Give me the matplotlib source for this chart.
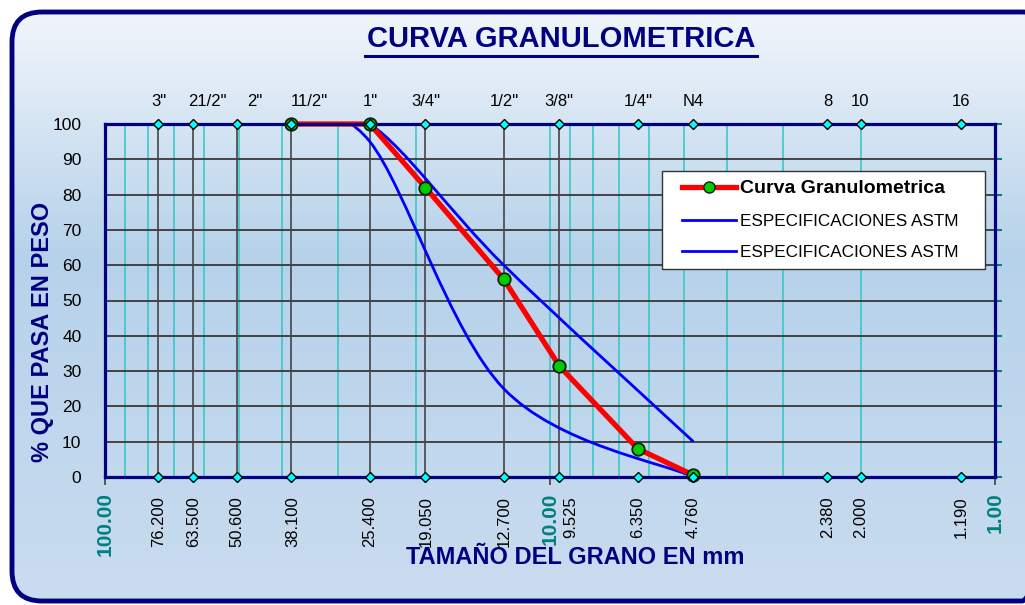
import numpy as np
import matplotlib
matplotlib.use("Agg")
import matplotlib.pyplot as plt
from matplotlib.path import Path
from matplotlib.patches import PathPatch, FancyBboxPatch
from matplotlib.colors import LinearSegmentedColormap
from matplotlib.lines import Line2D
from matplotlib.legend_handler import HandlerLine2D

plt.rcParams['font.family'] = ['Liberation Sans', 'DejaVu Sans']

# tamices (abertura en mm) y su nombre
sieve_names = ['3"', '21/2"', '2"', '11/2"', '1"', '3/4"', '1/2"', '3/8"', '1/4"', 'N4', '8', '10', '16']
sieve_mm = [76.2, 63.5, 50.6, 38.1, 25.4, 19.05, 12.7, 9.525, 6.35, 4.76, 2.38, 2.0, 1.19]
sieve_labels = ['76.200', '63.500', '50.600', '38.100', '25.400', '19.050', '12.700',
                '9.525', '6.350', '4.760', '2.380', '2.000', '1.190']
sieve_lines_mm = [76.2, 63.5, 50.6, 38.1, 25.4, 19.05, 12.7, 9.525]
# corrimiento horizontal de las etiquetas (pixeles), como en la hoja original
top_shift = [1, 15, 18, 18, 0, 0, 1, -1, 0, 0, 0, -1, 0]
bottom_shift = [1, 1, 0, 1, 0, 1, 0, 11, 0, 0, 0, 0, 0]

# curva de la muestra
curva_mm = [38.1, 25.4, 19.05, 12.7, 9.525, 6.35, 4.76]
curva_pasa = [100, 100, 82, 56, 31.4, 8, 0.5]

# limites ASTM
spec_mm = [38.1, 25.4, 12.7, 4.76]
spec_sup = [100, 100, 60, 10]
spec_inf = [100, 95, 25, 0]

major_x = [100, 10, 1]
major_x_labels = ['100.00', '10.00', '1.00']
minor_x = [90, 80, 70, 60, 50, 40, 30, 20, 9, 8, 7, 6, 5, 4, 3, 2]
y_ticks = list(range(0, 101, 10))

NAVY = '#000080'
TEAL = '#008080'


def smooth_path(xs, ys):
    # curva suavizada tipo excel (catmull-rom en escala log)
    pts = np.column_stack([np.log10(xs), np.asarray(ys, float)])
    ext = np.vstack([pts[0], pts, pts[-1]])
    verts = [pts[0]]
    codes = [Path.MOVETO]
    for i in range(len(pts) - 1):
        p0, p1, p2, p3 = ext[i], ext[i + 1], ext[i + 2], ext[i + 3]
        verts += [p1 + (p2 - p0) / 6, p2 - (p3 - p1) / 6, p2]
        codes += [Path.CURVE4] * 3
    verts = np.array(verts)
    verts[:, 0] = 10 ** verts[:, 0]
    return Path(verts, codes)


fig = plt.figure(figsize=(10.25, 6.05), dpi=100)
fig.patch.set_facecolor('white')

# fondo con degradado y marco redondeado
bg = fig.add_axes([0, 0, 1, 1], zorder=-1)
cmap = LinearSegmentedColormap.from_list('bg', [(0, '#f4f7fc'), (0.42, '#b6d2ea'), (1, '#cadcf0')])
im = bg.imshow(np.linspace(0, 1, 256).reshape(-1, 1), cmap=cmap,
               extent=[0, 1025, 605, 0], aspect='auto')
bg.set_xlim(0, 1025)
bg.set_ylim(605, 0)
bg.axis('off')
frame = FancyBboxPatch((12, 12), 1040, 589, boxstyle='round,pad=0,rounding_size=30',
                       transform=bg.transData, fc='none', ec=NAVY, lw=3.5)
bg.add_patch(frame)
im.set_clip_path(frame)
bg.plot([365, 757], [55.5, 55.5], color=NAVY, lw=2.2)

ax = fig.add_axes([105 / 1025, 128 / 605, 890 / 1025, 353 / 605])
ax.set_facecolor('none')
ax.set_xscale('log')
ax.set_xlim(100, 1)
ax.set_ylim(0, 100)

# rejilla
ax.set_xticks(major_x)
ax.set_xticklabels(major_x_labels, rotation=90, color=TEAL, fontsize=15, fontweight='bold')
ax.set_xticks(minor_x, minor=True)
ax.xaxis.set_minor_formatter(plt.NullFormatter())
ax.tick_params(axis='x', which='major', direction='out', length=6, width=1.2,
               color='#404040', pad=5)
ax.tick_params(axis='x', which='minor', length=0)
ax.grid(True, axis='x', which='both', color='#3cc8c8', lw=1.2)
ax.set_yticks(y_ticks)
ax.set_yticklabels([str(v) for v in y_ticks], fontsize=12.5)
ax.tick_params(axis='y', left=False, right=True, direction='out', length=5, width=1.5,
               color=TEAL, pad=12)
for v in y_ticks[1:-1]:
    ax.axhline(v, color='#383838', lw=1.3, zorder=1)
ax.set_axisbelow(True)
for s in ax.spines.values():
    s.set_color(NAVY)
    s.set_linewidth(2.3)

for x in sieve_lines_mm:
    ax.plot([x, x], [0, 100], color='#454545', lw=1.2, zorder=1.5)

# limites ASTM
ax.add_patch(PathPatch(smooth_path(spec_mm, spec_sup), fill=False, ec='#0000ff', lw=2, zorder=2))
ax.add_patch(PathPatch(smooth_path(spec_mm, spec_inf), fill=False, ec='#0000ff', lw=2, zorder=2))

# curva granulometrica
ax.plot(curva_mm, curva_pasa, color='#ff0000', lw=3.8, zorder=2.2, clip_on=False)
ax.plot(curva_mm, curva_pasa, ls='none', marker='o', ms=9, mfc='#00cc00', mec='#102010',
        mew=1.3, zorder=5, clip_on=False)

# marcas de tamices arriba y abajo
for yy in (0, 100):
    ax.plot(sieve_mm, [yy] * len(sieve_mm), ls='none', marker='D', ms=5, mfc='#00ffff',
            mec='black', mew=1, zorder=6, clip_on=False)

xtr = ax.get_xaxis_transform()
for x, name, lab, dt, db in zip(sieve_mm, sieve_names, sieve_labels, top_shift, bottom_shift):
    ax.annotate(name, xy=(x, 1), xycoords=xtr, xytext=(dt * 0.72, 13), textcoords='offset points',
                ha='center', va='baseline', fontsize=12)
    ax.annotate(lab, xy=(x, 0), xycoords=xtr, xytext=(db * 0.72, -14), textcoords='offset points',
                ha='center', va='top', rotation=90, fontsize=12)

handles = [
    Line2D([], [], color='#ff0000', lw=3.8, marker='o', ms=8, mfc='#00cc00', mec='#102010'),
    Line2D([], [], color='#0000ff', lw=2),
    Line2D([], [], color='#0000ff', lw=2),
]
hmap = {h: HandlerLine2D(xpad=0.6) for h in handles}
leg = ax.legend(handles, ['Curva Granulometrica', 'ESPECIFICACIONES ASTM', 'ESPECIFICACIONES ASTM'],
                handler_map=hmap, loc='upper left', bbox_to_anchor=(0.626, 0.5, 0.363, 0.367),
                mode='expand', borderaxespad=0, fontsize=12.3, handlelength=3.75,
                handletextpad=0.25, labelspacing=0.95, borderpad=0.55, fancybox=False,
                framealpha=1, edgecolor='#333333')
leg.get_frame().set_linewidth(1)
leg.set_zorder(7)
leg.get_texts()[0].set_fontweight('bold')
leg.get_texts()[0].set_fontsize(14)

fig.text(561 / 1025, 1 - 39 / 605, 'CURVA GRANULOMETRICA', ha='center', va='center',
         fontsize=21, fontweight='bold', color=NAVY)
fig.text(575 / 1025, 1 - 557 / 605, 'TAMAÑO DEL GRANO EN mm', ha='center', va='center',
         fontsize=17, fontweight='bold', color=NAVY)
fig.text(42.5 / 1025, 1 - 332 / 605, '% QUE PASA EN PESO', ha='center', va='center',
         rotation=90, fontsize=17, fontweight='bold', color=NAVY)

fig.savefig('out.png', dpi=100)
